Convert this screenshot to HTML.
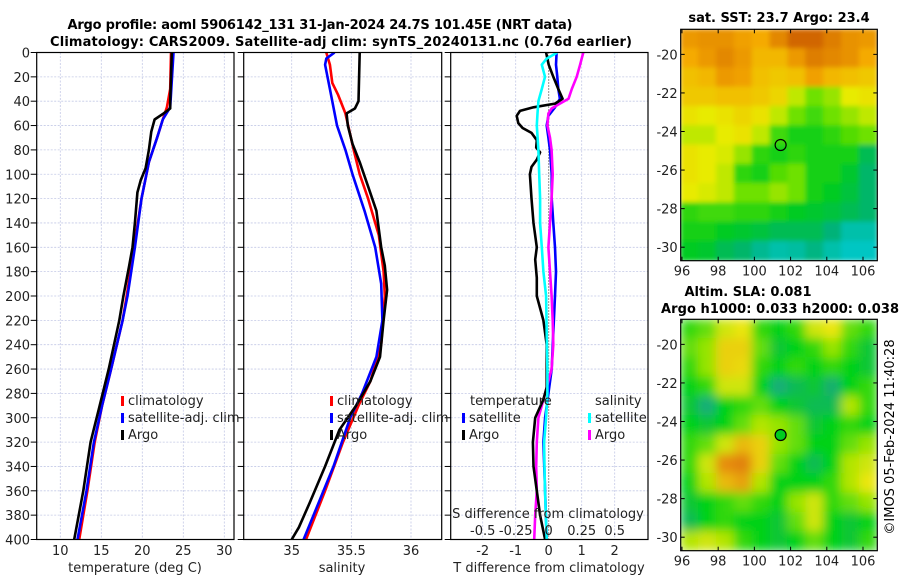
<!DOCTYPE html>
<html><head><meta charset="utf-8"><style>
html,body{margin:0;padding:0;background:#fff;}
svg{display:block;font-family:"DejaVu Sans","Liberation Sans",sans-serif;}
</style></head><body>
<svg id="chart" width="900" height="580" viewBox="0 0 900 580">
<defs>
<clipPath id="cp1"><rect x="36.7" y="52.5" width="197.3" height="487"/></clipPath>
<clipPath id="cp2"><rect x="243.7" y="52.5" width="198" height="487"/></clipPath>
<clipPath id="cp3"><rect x="450.7" y="52.5" width="197.3" height="487"/></clipPath>
<clipPath id="cpm1"><rect x="680.7" y="29.3" width="196.6" height="231.4"/></clipPath>
<clipPath id="cpm2"><rect x="680.7" y="319.3" width="196.6" height="231.4"/></clipPath>
<filter id="bl1" x="0" y="0" width="1" height="1"><feGaussianBlur stdDeviation="2.5" edgeMode="duplicate"/></filter>
<filter id="bl2" x="0" y="0" width="1" height="1"><feGaussianBlur stdDeviation="5" edgeMode="duplicate"/></filter>
</defs>
<text x="320" y="29" text-anchor="middle" font-weight="bold" font-size="13" textLength="505">Argo profile: aoml 5906142_131 31-Jan-2024 24.7S 101.45E (NRT data)</text>
<text x="341" y="46" text-anchor="middle" font-weight="bold" font-size="13" textLength="582">Climatology: CARS2009. Satellite-adj clim: synTS_20240131.nc (0.76d earlier)</text>
<text x="779" y="22" text-anchor="middle" font-weight="bold" font-size="13">sat. SST: 23.7 Argo: 23.4</text>
<text x="748" y="296" text-anchor="middle" font-weight="bold" font-size="13">Altim. SLA: 0.081</text>
<text x="780" y="313" text-anchor="middle" font-weight="bold" font-size="13" textLength="238">Argo h1000: 0.033 h2000: 0.038</text>
<text transform="translate(894,437) rotate(-90)" text-anchor="middle" font-size="13">©IMOS 05-Feb-2024 11:40:28</text>
<g id="g"></g>
</svg>
<script>
// ---------- profile data ----------
const tArgoDepth = [0,40,46,50,55,65,80,95,105,115,140,160,175,200,220,260,290,320,360,400];
const tArgo      = [23.6,23.4,23.4,22.6,21.5,21.1,20.8,20.4,19.8,19.4,19.1,18.8,18.4,17.7,17.2,15.9,14.8,13.7,12.8,11.7];
const tSatDepth  = [0,45,55,70,90,120,160,200,220,260,290,320,360,400];
const tSat       = [23.8,23.4,22.5,21.8,20.8,19.9,19.1,18.2,17.6,16.2,15.1,14.1,13.2,12.1];
const tClimDepth = [0,30,45,55,70,90,120,160,200,220,260,290,320,360,400];
const tClim      = [23.5,23.4,23.0,22.5,21.8,20.8,19.9,19.0,18.1,17.6,16.2,15.1,14.2,13.3,12.3];

const sArgoDepth = [0,40,46,50,60,75,90,110,130,160,175,195,220,250,270,290,310,340,370,390,400];
const sArgo      = [35.57,35.56,35.53,35.46,35.47,35.51,35.57,35.64,35.71,35.75,35.78,35.80,35.77,35.74,35.66,35.54,35.40,35.28,35.15,35.06,35.0];
const sClimDepth = [0,10,25,35,50,80,100,120,150,180,200,240,270,290,320,360,400];
const sClim      = [35.29,35.32,35.34,35.39,35.45,35.52,35.57,35.64,35.73,35.77,35.78,35.75,35.66,35.56,35.43,35.28,35.12];
const sSatDepth  = [0,5,10,30,60,80,100,130,160,190,220,250,280,300,340,400];
const sSat       = [35.36,35.29,35.28,35.32,35.38,35.45,35.51,35.61,35.70,35.75,35.76,35.71,35.59,35.49,35.35,35.10];

const dTArgoDepth = [0,10,20,30,38,42,45,48,52,58,62,66,72,78,82,88,94,100,120,140,160,170,185,200,220,240,260,275,285,300,320,340,360,380,400];
const dTArgo      = [-0.08,0,0.14,0.29,0.42,0.19,-0.46,-0.87,-0.97,-0.92,-0.79,-0.52,-0.36,-0.38,-0.26,-0.36,-0.52,-0.57,-0.52,-0.46,-0.36,-0.41,-0.36,-0.36,-0.16,-0.06,-0.06,-0.06,-0.16,-0.41,-0.48,-0.46,-0.36,-0.26,-0.11];
const dTSatDepth  = [0,10,20,30,38,45,52,60,70,80,100,120,140,160,180,200,230,260,280,300,320,360,400];
const dTSat       = [0.24,0.22,0.26,0.29,0.34,0.19,-0.01,-0.06,-0.01,0.04,0.09,0.09,0.14,0.19,0.22,0.19,0.14,0.09,-0.01,-0.11,-0.16,-0.11,-0.06];
const dSSatDepth  = [0,5,10,20,30,40,50,60,80,100,120,140,160,180,200,230,260,280,300,320,340,360,400];
const dSSat       = [0.065,-0.015,-0.052,-0.028,-0.052,-0.078,-0.085,-0.09,-0.078,-0.072,-0.065,-0.065,-0.052,-0.04,-0.02,-0.015,-0.01,-0.01,-0.02,-0.035,-0.032,-0.028,-0.015];
const dSArgoDepth = [0,10,20,30,38,42,46,50,60,70,80,100,120,140,160,180,200,220,240,260,275,290,300,320,340,360,380,400];
const dSArgo      = [0.262,0.238,0.212,0.175,0.15,0.085,0.022,-0.002,-0.01,0.01,0.022,0.03,0.022,0.01,-0.002,0.01,0.022,0.03,0.035,0.022,-0.015,-0.052,-0.078,-0.09,-0.095,-0.09,-0.102,-0.11];

const depthTicks = [0,20,40,60,80,100,120,140,160,180,200,220,240,260,280,300,320,340,360,380,400];
const tTicks = [10,15,20,25,30];
const sTicks = [35,35.5,36];
const sTickLabels = ["35","35.5","36"];
const dTTicks = [-2,-1,0,1,2];
const dSTicks = [-0.5,-0.25,0,0.25,0.5];
const dSTickLabels = ["-0.5","-0.25","0","0.25","0.5"];

// ---------- map data (rows: lat -19 .. -31, cols: lon 96 .. 107) ----------
const sstGrid = [
[0.8,0.82,0.82,0.78,0.75,0.85,0.95,0.95,0.88,0.82,0.8],
[0.75,0.8,0.85,0.8,0.72,0.72,0.8,0.88,0.85,0.82,0.75],
[0.7,0.72,0.8,0.78,0.7,0.68,0.7,0.78,0.72,0.7,0.68],
[0.68,0.68,0.7,0.7,0.68,0.65,0.55,0.45,0.5,0.6,0.62],
[0.62,0.6,0.62,0.65,0.62,0.55,0.45,0.4,0.45,0.5,0.55],
[0.55,0.55,0.6,0.62,0.55,0.4,0.35,0.35,0.38,0.42,0.45],
[0.62,0.6,0.58,0.5,0.38,0.35,0.38,0.35,0.35,0.35,0.25],
[0.62,0.6,0.55,0.38,0.35,0.42,0.45,0.35,0.35,0.3,0.22],
[0.6,0.58,0.55,0.45,0.45,0.5,0.45,0.35,0.32,0.28,0.22],
[0.38,0.4,0.4,0.38,0.38,0.35,0.32,0.3,0.28,0.25,0.22],
[0.35,0.35,0.32,0.3,0.28,0.25,0.25,0.25,0.2,0.1,0.1],
[0.32,0.3,0.25,0.22,0.15,0.1,0.12,0.18,0.1,0.05,0.05]];
const slaGrid = [
[0.4,0.45,0.6,0.65,0.4,0.35,0.4,0.6,0.65,0.45,0.4],
[0.45,0.5,0.7,0.7,0.45,0.3,0.35,0.4,0.5,0.4,0.3],
[0.4,0.5,0.7,0.68,0.4,0.35,0.4,0.35,0.4,0.35,0.3],
[0.35,0.4,0.6,0.6,0.35,0.15,0.25,0.3,0.2,0.35,0.4],
[0.3,0.15,0.35,0.4,0.45,0.35,0.3,0.25,0.25,0.55,0.4],
[0.35,0.3,0.35,0.45,0.55,0.5,0.45,0.3,0.35,0.4,0.35],
[0.4,0.45,0.6,0.75,0.7,0.5,0.45,0.35,0.35,0.45,0.5],
[0.4,0.6,0.85,0.9,0.7,0.45,0.35,0.25,0.35,0.55,0.6],
[0.35,0.55,0.75,0.8,0.55,0.35,0.35,0.35,0.4,0.55,0.65],
[0.3,0.35,0.4,0.45,0.4,0.35,0.5,0.6,0.4,0.45,0.5],
[0.25,0.35,0.4,0.35,0.35,0.3,0.45,0.6,0.35,0.3,0.35],
[0.55,0.6,0.55,0.4,0.35,0.3,0.35,0.45,0.35,0.3,0.4]];
const latTicks = [-20,-22,-24,-26,-28,-30];
const lonTicks = [96,98,100,102,104,106];
const argoPos = [101.45,-24.7];

// ---------- helpers ----------
const NS = "http://www.w3.org/2000/svg";
const G = document.getElementById('g');
function mk(tag, attrs, parent){ const e=document.createElementNS(NS,tag); for(const k in attrs) e.setAttribute(k,attrs[k]); (parent||G).appendChild(e); return e; }
const yD = d => 52.5 + d*1.2175;
const xT = t => 60.3 + (t-10)*8.2;
const xS = s => 291.7 + (s-35)*119.3;
const xDT = v => 548.7 + v*33;
const xDS = v => 548.7 + v*132;
const panels = [[36.7,234],[243.7,441.7],[450.7,648]];
const GRID = "#c4c9e6";

depthTicks.forEach(d=>{ panels.forEach(p=>{
  const l=mk('line',{x1:p[0],x2:p[1],y1:yD(d),y2:yD(d),stroke:GRID,'stroke-width':0.8,'stroke-dasharray':'2,1.5'});
  
  
});});
function vgrid(vals, fx, dotted0){ vals.forEach(v=>{ const isZ=dotted0&&v===0;
  const l=mk('line',{x1:fx(v),x2:fx(v),y1:52.5,y2:539.5,stroke:isZ?'#222':GRID,'stroke-width':isZ?1:0.8,'stroke-dasharray':isZ?'1,2':'2,1.5'});
  
   }); }
vgrid(tTicks,xT); vgrid(sTicks,xS); vgrid(dTTicks,xDT,true);

function line(ds, vs, fx, color, clip, name){
  const pts = ds.map((d,i)=>fx(vs[i]).toFixed(1)+','+yD(d).toFixed(1)).join(' ');
  const p=mk('polyline',{points:pts,fill:'none',stroke:color,'stroke-width':2.6,'stroke-linejoin':'round','clip-path':'url(#'+clip+')'});
  
  
}
line(tClimDepth,tClim,xT,'#ff0000','cp1','temp-climatology-line');
line(tSatDepth,tSat,xT,'#0000ff','cp1','temp-satellite-line');
line(tArgoDepth,tArgo,xT,'#000000','cp1','temp-argo-line');
line(sClimDepth,sClim,xS,'#ff0000','cp2','sal-climatology-line');
line(sSatDepth,sSat,xS,'#0000ff','cp2','sal-satellite-line');
line(sArgoDepth,sArgo,xS,'#000000','cp2','sal-argo-line');
line(dTSatDepth,dTSat,xDT,'#0000ff','cp3','tdiff-satellite-line');
line(dSArgoDepth,dSArgo,xDS,'#ff00ff','cp3','sdiff-argo-line');
line(dTArgoDepth,dTArgo,xDT,'#000000','cp3','tdiff-argo-line');
line(dSSatDepth,dSSat,xDS,'#00ffff','cp3','sdiff-satellite-line');

const pnames=['temperature-axes','salinity-axes','difference-axes'];
panels.forEach((p,i)=>{
  const r=mk('rect',{x:p[0],y:52.5,width:p[1]-p[0],height:487,fill:'none',stroke:'#000','stroke-width':1.2});
  
  
  depthTicks.forEach(d=>{ mk('line',{x1:p[0]-6,x2:p[0],y1:yD(d),y2:yD(d),stroke:'#000','stroke-width':1}); });
});
depthTicks.forEach(d=>{ const t=mk('text',{x:30,y:yD(d)+5,'text-anchor':'end','font-size':13,fill:'#222'}); t.textContent=d;
  
   });
function xlabels(vals, labs, fx, y, name){ vals.forEach((v,i)=>{ const t=mk('text',{x:fx(v),y:y,'text-anchor':'middle','font-size':13,fill:'#222'}); t.textContent=labs?labs[i]:v;
  
   }); }
xlabels(tTicks,null,xT,555,'temp-tick-label');
xlabels(sTicks,sTickLabels,xS,555,'sal-tick-label');
xlabels(dTTicks,null,xDT,555,'tdiff-tick-label');
xlabels(dSTicks,dSTickLabels,xDS,535,'sdiff-tick-label');
function txt(x,y,s,name,anchor,color,size){ const t=mk('text',{x:x,y:y,'text-anchor':anchor||'start','font-size':size||13,fill:color||'#222'}); t.textContent=s;
  
   return t; }
txt(135,572,'temperature (deg C)','temp-axis-title','middle');
txt(342,572,'salinity','sal-axis-title','middle');
txt(549,572,'T difference from climatology','tdiff-axis-title','middle');
txt(548,518,'S difference from climatology','sdiff-axis-title','middle');

function leg(x,y,color,label,name){ const m=mk('rect',{x:x,y:y-9,width:3,height:10,fill:color});  
  txt(x+7,y,label,name); }
leg(121,405,'#ff0000','climatology','legend-temp-climatology');
leg(121,422,'#0000ff','satellite-adj. clim','legend-temp-satellite');
leg(121,439,'#000000','Argo','legend-temp-argo');
leg(330,405,'#ff0000','climatology','legend-sal-climatology');
leg(330,422,'#0000ff','satellite-adj. clim','legend-sal-satellite');
leg(330,439,'#000000','Argo','legend-sal-argo');
txt(470,405,'temperature','legend-temperature-header');
leg(462,422,'#0000ff','satellite','legend-tdiff-satellite');
leg(462,439,'#000000','Argo','legend-tdiff-argo');
txt(595,405,'salinity','legend-salinity-header');
leg(588,422,'#00ffff','satellite','legend-sdiff-satellite');
leg(588,439,'#ff00ff','Argo','legend-sdiff-argo');

// ---------- maps ----------
function lerp(a,b,t){return a+(b-a)*t;}
function cmap(stops,v){ for(let i=1;i<stops.length;i++){ if(v<=stops[i][0]){ const a=stops[i-1],b=stops[i],t=(v-a[0])/(b[0]-a[0]);
  return 'rgb('+[1,2,3].map(k=>Math.round(lerp(a[k],b[k],t))).join(',')+')'; } } const l=stops[stops.length-1]; return 'rgb('+l[1]+','+l[2]+','+l[3]+')'; }
const sstStops=[[0,0,205,220],[0.2,0,178,120],[0.33,0,205,25],[0.45,110,225,0],[0.6,232,235,0],[0.75,245,170,0],[1,200,85,0]];
const slaStops=[[0,20,170,150],[0.2,20,175,110],[0.35,0,210,25],[0.5,150,228,0],[0.65,235,230,15],[0.85,230,140,10],[1,215,110,10]];
function drawMap(grid, stops, top, clip, filt, name){
  const x0=680.7,x1=877.3,y0=top,y1=top+231.4;
  const lon0=95.93,lon1=106.79,lat0=-18.7,lat1=-30.7;
  const fx=lon=>x0+(lon-lon0)/(lon1-lon0)*(x1-x0);
  const fy=lat=>y0+(lat-lat0)/(lat1-lat0)*(y1-y0);
  const outer=mk('g',{'clip-path':'url(#'+clip+')'});
  
  
  const g=mk('g',{filter:'url(#'+filt+')'},outer);
  const nr=grid.length,nc=grid[0].length;
  const cw=(lon1-lon0)/nc, ch=(lat0-lat1)/nr;
  grid.forEach((row,r)=>row.forEach((v,c)=>{
    const xa=fx(lon0+c*cw), ya=fy(lat0-r*ch);
    const cell=mk('rect',{x:xa-0.5,y:ya-0.5,width:fx(lon0+(c+1)*cw)-xa+1,height:fy(lat0-(r+1)*ch)-ya+1,fill:cmap(stops,v)},g);
    
    
  }));
  const fr=mk('rect',{x:x0,y:y0,width:x1-x0,height:y1-y0,fill:'none',stroke:'#000','stroke-width':1.2});
   
  latTicks.forEach(l=>{ mk('line',{x1:x0,x2:x0+4,y1:fy(l),y2:fy(l),stroke:'#000'}); mk('line',{x1:x1-4,x2:x1,y1:fy(l),y2:fy(l),stroke:'#000'});
    txt(x0-3,fy(l)+5,String(l),'lat-tick-label','end'); });
  lonTicks.forEach(l=>{ mk('line',{x1:fx(l),x2:fx(l),y1:y1,y2:y1-4,stroke:'#000'}); mk('line',{x1:fx(l),x2:fx(l),y1:y0,y2:y0+4,stroke:'#000'});
    txt(fx(l),y1+15,String(l),'lon-tick-label','middle'); });
  return {fx,fy};
}
const m1=drawMap(sstGrid,sstStops,29.3,'cpm1','bl1','sst-map');
const c1=mk('circle',{cx:m1.fx(argoPos[0]),cy:m1.fy(argoPos[1]),r:5.5,fill:'none',stroke:'#000','stroke-width':1.2});
 
const m2=drawMap(slaGrid,slaStops,319.3,'cpm2','bl2','sla-map');
const c2=mk('circle',{cx:m2.fx(argoPos[0]),cy:m2.fy(argoPos[1]),r:5.5,fill:'#00cc20',stroke:'#000','stroke-width':1.2});
 
</script>
</body></html>
